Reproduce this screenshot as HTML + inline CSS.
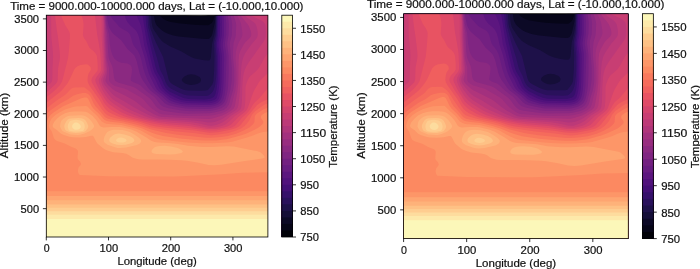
<!DOCTYPE html>
<html><head><meta charset="utf-8"><style>html,body{margin:0;padding:0;background:#fff;}svg{display:block}</style></head>
<body><svg width="700" height="269" viewBox="0 0 700 269">
<defs><filter id="tb" x="-5%" y="-20%" width="110%" height="140%"><feGaussianBlur stdDeviation="0.3"/></filter><clipPath id="cl"><rect x="46.3" y="15.2" width="221.6" height="221.8"/></clipPath></defs>
<rect width="700" height="269" fill="#fff"/>
<g id="fig"><g clip-path="url(#cl)"><rect x="46.3" y="15.2" width="221.6" height="221.8" fill="#010108"/>
<path fill="#060518" d="M46.3 237l221.6 0 0-221.8-59.8 0-2.6 0.6-4.4 0.3-8.8-0.3-7.1-0.6-138.9 0z"/>
<path fill="#0c0926" d="M46.3 237l221.6 0 0-221.8-53.4 0-0.3 2-1.2 3.7-1.3 2-2.5 1.9-1.2 0.4-10-0.3-11.9-0.8-7.5-0.9-8.7-1.5-3.1-1-3.3-1.7-2.3-1.9-1.1-1.9-113.8 0z"/>
<path fill="#150e38" d="M46.3 237l221.6 0 0-221.8-52.5 0-0.6 7.5-2.5 11.3-0.6 1.7-1.9 2.6-1.2 0.7-1.2 0.1-5.7-0.3-23.1-2.4-6.2-1.2-5.6-1.9-2.5-1.3-1.9-1.3-3.7-3.2-1.9-2.1-1.1-2-0.8-2.3-0.6-3.1-0.2-2.8-107.8 0z"/>
<path fill="#1e1149" d="M46.3 237l221.6 0 0-221.8-51.9 0-0.5 12.8-1.3 6.9-2.1 8.7-1.1 12.7-0.5 2.4-0.7 1.2-0.6 0.5-1.2 0.2-3.8-0.3-4.3-0.7-5-1.1-2.8-1-2.9-1.4-8.1-4.9-11.8-5.1-6.3-4-1.8-1.9-2.5-3.1-4.4-6.5-1.3-2.4-0.7-2.3-0.6-3.1-0.6-7.6-104.8-0zM181.9 80.3l0-0.6 0.5-1.3 2-1.9 3.6-1.7 3.1-0.5 3.8 0.5 3.7 1.6 1 0.7 0.9 1.1 0.4 0.8 0.1 1.3-0.4 1.3-0.5 0.6-1.9 1.2-3.3 1.2-3.8 0.4-3.1-0.4-2.9-1.2-2.6-1.8z"/>
<path fill="#2a115c" d="M46.3 237l221.6 0 0-221.8-51.3 0-0.5 15.8-0.5 4.4-1.3 5.7-0.3 2.5 0.5 12.7-0.3 13.6-0.8 11.7-1.1 2.9-4.3 5.6-2.5 0.5-4.4 0.2-13.1-0.2-3.7-0.7-3.8-1.5-7.1-3.7-2.3-1.5-1.5-1.6-1-2.3-5.5-22.4-6.9-13.8-2.5-5.9-3.2-8.4-0.8-4.1-0.5-9.5-102.9 0z"/>
<path fill="#36106b" d="M46.3 237l221.6 0 0-221.8-50.6 0-0.4 19-1.4 9.4 0.1 3.8 0.8 8.9 0.1 13.2-0.3 7-0.9 7.6-0.5 2.5-1.1 3.2-0.7 1.5-1.3 1.6-1.9 1.7-1.5 0.9-2.2 0.4-2.5 0.1-14.4-0.4-2.4-0.3-2.5-0.6-6.1-2.4-7.1-3.6-2.5-1.9-1.6-2.1-1.3-2.5-2.1-5.7-3.6-7-2.9-11.3-4.7-15-4.1-16-0.4-5-0.3-7-101.3 0z"/>
<path fill="#440f76" d="M46.3 237l221.6 0 0-221.8-49.6 0-0.3 19.6-1.2 9.5 0.9 10.1 0.1 3.8-0.2 22.1-0.9 7.9-1.2 5.6-0.7 1.7-1.2 1.5-1.7 1-2.1 0.7-2.5 0.5-3.1 0.2-15.6-0.4-5-1-4.8-1.9-8.9-4.4-2.5-1.9-1.9-2.1-1.7-3-2.6-6.2-3.9-6.4-1.6-4.5-6.2-25.9-2.7-12.6-0.6-3.8-0.6-10.1-99.3 0z"/>
<path fill="#51127c" d="M46.3 237l221.6 0 0-221.8-48.1 0 0.3 9.5-0.5 11.4-1 5.6-0.2 2.6 0.2 3.1 1.1 8.9-0.2 24.6-0.3 4.4-0.8 6.4-1.3 5-0.5 1.3-1.1 1.3-1.3 0.8-3.1 0.8-6.2 0.6-16.9-0.4-3.7-0.5-3.2-0.7-4.3-1.7-6.9-3.5-4-3-3.1-3.2-1.6-2.8-2.7-6-3.9-7-1.6-4.4-6.1-25.3-4.4-27.8-96.2 0z"/>
<path fill="#5c167f" d="M46.3 237l221.6 0 0-221.8-46.3 0 0.4 8.8-0.1 10.8-1.3 6.9-0.2 2.6 0.2 3.1 1.2 7.6 0.1 4.4-0.5 23.4-0.4 6.3-0.6 3.8-0.7 3.2-0.9 2.5-0.8 1.3-1.4 1.2-1.8 0.9-3.1 0.8-3.1 0.4-3.7 0.1-17.5-0.4-4.4-0.6-4.8-1.2-3.9-1.4-4.4-2.2-8-6.5-2-1.9-1.5-2.5-2.7-6.3-3.3-5.9-1.4-3.6-4.2-17-2.6-8.3-1.5-11.3-1.5-7.1-1.3-4.2-3.4-7.7-90.2 0z"/>
<path fill="#681c81" d="M46.3 237l221.6 0 0-221.8-44.3 0 0.4 8.8 0 10.8-1.3 9.5 0.2 3.1 1.1 7 0.1 4.4-0.6 25.3-0.4 5.7-0.6 3.8-0.9 3.7-0.8 1.9-1.3 1.9-1.5 1.4-2.4 1.2-2.6 0.7-3.2 0.5-4.3 0.1-18.7-0.4-5.7-0.7-5.7-1.5-4.3-1.5-2.5-1.4-5.3-4.7-4.1-3.1-2-1.9-1.3-1.9-5.2-10.1-1.9-4.5-1.7-5.7-2.8-11.4-3.4-10.7-1.7-7.6-1.1-3.5-1.5-2.8-1.7-2.2-4.8-4.1-2.6-3.1-1.9-3.8-0.6-3.2-78.7 0z"/>
<path fill="#732081" d="M46.3 237l221.6 0 0-221.8-42.4 0 0.7 8.8 0 10.8-1.2 7.6-0.1 2.5 1.4 9.5 0.1 3.8-0.8 27.1-0.4 5.1-0.8 5.1-0.8 3.1-0.9 1.9-1.5 1.9-2 1.6-2.5 1.2-3.7 1.1-3.2 0.5-3.7 0.1-15.6-0.2-5-0.3-6.9-1.1-6.8-1.7-2.5-0.9-2.5-1.6-4.5-4.4-7.2-5.7-1.7-1.9-2.2-3.1-2.7-4.4-1.9-3.8-1.5-3.8-1.8-5.7-2.2-9.5-1.2-3.9-1.8-3.7-3.9-5-1.1-1.9-0.9-2.6-1.3-5-1.1-2.5-1-1.3-1.5-1.3-6.1-3.4-2.1-1.6-6.6-7.5-1.3-2-0.7-1.9-64.2 0z"/>
<path fill="#802582" d="M46.3 237l221.6 0 0-221.8-40.2 0 0.9 5.7 0.3 3.8-0.3 10.1-1.2 6.9-0.2 2.6 1.4 11.3 0.1 17.7-0.6 12.7-0.5 4.4-1.1 5.7-0.8 3.1-0.9 2.2-1.2 1.9-1.9 1.7-3.1 1.7-3.8 1.2-3.7 0.8-3.7 0.3-16.3-0.2-5.6-0.2-8.1-1.3-8.8-2.1-2.2-0.9-1.9-1.3-6.1-6.3-8-6.3-1.8-1.9-5.9-8.2-1.7-3.2-1.4-3.8-2.9-12-1.1-3-1.3-2.7-1.9-2.2-5.2-4.7-6-8.4-6.2-5-2.5-2.4-1.3-1.6-1.9-3.6-0.6-1.8-1.2-5.6-0.7-5.1-60.5-0z"/>
<path fill="#8b2981" d="M46.3 237l221.6 0 0-221.8-37.4 0 1.2 5.7 0.5 3.8-0.4 10.7-1.7 6.3-0.3 2.6 2 24-0.1 12.6-1.3 8.9-3.2 12-1.7 3.1-1.9 1.9-2.5 1.5-3.8 1.2-4.3 1.1-3.2 0.5-16.2 0.1-6.8-0.1-6.9-0.8-12.5-2.4-4.4-1.4-1.5-0.9-1.6-1.5-3.6-4.9-1.7-1.9-8.4-6.3-5.6-5.5-2.5-1.6-4.6-1.7-2.2-1.3-0.5-0.6-0.1-1.3 1.1-6.1 0.2-3.4-0.2-1.9-0.9-1.8-1.4-1.3-2.1-1-6.2-0.7-3.1-1.2-1.9-1.4-1.9-1.8-1.8-3.2-1.3-3.7-0.6-2.7-0.7-4.5-0.9-10.1-2.2-8.7-1-10.3-59.5 0z"/>
<path fill="#982d80" d="M46.3 237l221.6 0 0-221.8-34.3 0 2.2 7 0.4 3.1-0.4 10.1-0.6 2.5-1.6 5.1-0.5 6.3 0 8.9 1.1 10.7 0.1 12.7-0.4 3.7-0.9 5.1-2 6.3-1.4 5.7-1 2.5-1.9 2.8-3.1 2.2-3.1 1.2-6.3 1.5-5 0.7-20 0.4-5.6-0.3-6.8-0.7-11.9-1.7-4.4-1.2-2.5-1.6-2.1-2-4.1-5.7-2.4-2.5-13.2-9.5-2.3-1.3-2.7-1-12.5-3.5-2.5-1.1-1.2-1.2-1-2.6-0.8-7-0.6-3.2-1.1-3.1-2.2-4.8-0.7-2.8-0.5-5-0.8-17.7-1.2-7-1-12-58.8-0z"/>
<path fill="#a3307e" d="M46.3 237l221.6 0 0-221.8-30.8 0 3.1 6.3 0.9 2.5 1.1 7 0.2 3.8-0.5 1.9-3.4 6.3-1.8 5.1-0.7 3.1-0.5 5.7 0.8 12 0.1 11.4-0.2 3.8-1 6.9-1.9 7-1.2 5.7-0.8 2.5-1.1 1.9-2.9 2.3-4.3 2.3-2.5 0.9-7.5 1.7-4.4 0.5-19.4 0.2-8.1-0.3-16.2-1.3-3.7-0.4-1.9-0.6-3.1-1.8-5.6-4.1-2-1.9-4.9-5.8-2.2-1.8-2.2-1.5-12.5-7-2.7-1-9.1-2.6-2.5-1.3-2.1-1.8-0.9-1.2-0.4-1.3 0-12-1.6-6.3-0.7-3.8-0.8-23.4-1.4-19.6-58.3-0z"/>
<path fill="#b0357b" d="M46.3 237l221.6 0 0-221.8-27.2 0 1.6 2.6 4.8 5.6 1.7 2.5 1.8 4.5 0.6 2.5 0 1.9-0.2 1.3-1.2 1.8-4.4 4.3-1.5 2.1-3.5 6.5-1.3 3.6-0.5 5-0.3 24-1 8.9-2.1 12-0.6 2.5-1 1.8-1.6 1.4-5.9 3.7-3.8 1.9-8.1 2.5-3.1 0.6-3.1 0.2-44.3-1.9-3.2-0.3-1.8-0.4-4.2-1.9-7.9-4.4-4.5-3.2-5.9-4.9-3-2-8.2-4.4-10-4.8-2.5-1.8-4.4-4-1.9-2.3-0.5-1-0.2-1.3 1.3-6.3 0.3-5.1-1.3-11.4-0.8-19-0.3-15.1-0.6-8.2-57.8 0z"/>
<path fill="#bc3978" d="M46.3 237l221.6 0 0-221.8-23.2 0 0.7 0.9 1.9 1.6 6.5 4.5 1.7 1.8 0.9 1.9 0.8 3.2 0.5 3.2 0.1 2.5-0.4 1.9-1 1.9-5.4 6.3-5.6 8.2-1.8 3.4-1 2.9-0.7 3.2-0.6 4.4-1.5 25.3-1.2 11.4-0.8 3.8-1.1 1.8-1.5 1.3-13.5 8.6-6.2 2.5-3.2 0.5-3.7 0.2-1.9-0.1-6.2-1.1-7.5-0.8-31.2-1.7-3.1-0.3-3.3-0.8-5-1.9-4.3-1.9-11.9-6.3-10.5-6.6-8.1-4.4-1.9-1.3-1.9-1.7-6.9-8.2-1.2-2.1-0.5-2.3 0.2-2.5 2.1-5.7 0.3-3.2-0.8-10.7-0.9-20.9-0-13.9-0.5-8.8-57.3 0z"/>
<path fill="#c83e73" d="M46.3 237l221.6 0 0-221.8-17.5 0 1.3 0.8 9.2 4.3 2 1.3 1.8 1.8 0.6 1.3 0.3 1.9 0.3 5.7-0.1 3.8-0.6 2.5-1.2 2.5-15.5 21.7-2.4 4-1.5 3.4-1 3.7-0.7 4.5-0.6 8.2-0.4 15.2-0.5 4.4-0.4 1.9-0.8 1.3-2 1.9-7.1 4.4-5 4.4-2.5 1.7-2.9 1.5-4 1.5-3.1 0.8-2.5 0.2-3.1-0.3-7.5-1.7-8.8-1.5-30.5-2.2-4.7-0.6-5.7-1.3-5.9-1.9-14.5-6.3-3.6-1.9-12.5-7.8-1.8-1.4-1.9-1.9-5.6-7.2-2.6-4.5-1.1-3.7-0.1-1.9 0.3-1.3 2.4-5.7 0.5-3.2-1.2-32.8 0.2-12-0.4-9.5-55.7-0-0.3 19 0.3 20.8-0 14.5-0.4 6.4-0.6 3.1z"/>
<path fill="#d3436e" d="M46.3 237l221.6 0 0-183.2-1.4 1.2-1.8 2.5-4.9 8.9-1.9 2.9-1.9 2-5.6 4.7-1.4 1.8-1.3 2.5-1.6 4.3-0.6 2.6-0.2 13.9-0.6 5.7-0.5 1.9-0.9 1.3-1.4 1.3-7.2 5-5.5 5.3-3.7 2.8-3.1 1.4-4.8 1.2-4 0.6-3.8 0.1-3.7-0.5-16.2-3.1-20-1.5-13.7-1.7-9.6-2.1-6.8-1.9-10-3.8-6.1-2.9-10-6.4-3.3-2.7-2.3-2.4-2.5-3.3-3.5-5.6-2.8-6.4-0.6-3.1 0.4-1.9 3.1-5.7 0.7-3.2-0.2-14.5-1.1-19.6 0.1-10.7-0.2-9.5-50.4 0 0.2 20.9 1.6 15.8 0.2 4.4-0.6 12.6-0.2 10.8-0.5 1.9-0.8 1.2-4.7 4.3zM267.9 16l0-0.8-3.4 0z"/>
<path fill="#df4a68" d="M46.3 237l221.6 0 0-164.1-7.5 7.4-1.8 2.5-4.1 7-1.7 3.8-5 14.5-1.1 1.9-1.9 2-6.4 4.9-7.3 7.6-2 1.3-2.4 1-3.7 1-7.5 1.2-8.1-0.1-18.2-2.9-20.6-1.8-9.3-1.2-7.5-1.4-16.8-4-7.5-2.6-5.7-2.5-8.7-5.4-3.8-2.8-2.5-2.6-2.4-3.5-5.1-8.4-3.4-7-0.5-1.9 0.1-1.9 1-1.9 3.7-5 0.7-1.9 0.1-2.6-0.4-10.7-0.4-5-1.5-9.1-1.6-8.6-2.1-19-40 0 1.7 13.9 1.6 10.7 1.5 12.7 0.2 5-0.3 2.6-1.6 8.2-0.4 11.4-0.4 1.9-0.6 1.2-1.1 1.3-7.5 6.9-1.8 1.5z"/>
<path fill="#e85362" d="M46.3 237l221.6 0 0-148.5-1.2 1.1-7.2 8.4-4.8 4.4-1.8 2.3-2.3 4-1.8 2.6-2.1 2.2-4.5 4.1-6.6 7.6-1.7 1.2-1.6 0.8-3.1 1-4.4 0.9-9.3 1.5-7.5 0-18.8-2.7-25.5-2.4-11.3-1.9-10-2.7-12.5-2.8-5.8-1.8-5.4-2.3-5.6-3.1-3.8-2.5-3.1-2.8-2-2.6-3.4-6.3-3.1-4.4-5.7-9.5-0.6-2.5 0.6-2.5 1.2-1.9 3.4-3.8 1.1-1.9 0-5.7-0.6-7-0.4-1.9-1.1-2.2-1.9-2.2-3.2-2.5-1.2-1.3-3-6.1-2.3-3.4-0.9-1.8-0.2-1.9 0.6-7 0-3.8-0.6-3.8-1.6-4.4-20.2 0 0.8 2.3 3.4 7.8 3.3 5.1 0.9 1.9 0.5 1.9-0.1 3.7-1.1 14-0.8 6.3-5.9 23.4-2.1 3.5-3.7 4-3.6 3.2-6.4 5z"/>
<path fill="#f05f5e" d="M46.3 237l221.6 0 0-137.8-6.2 2.9-3.2 2-1.8 1.5-8.7 10.1-7.1 8.8-1.9 1.9-3.4 1.9-5.2 1.5-12.4 2.5-3.8 0.3-4.4 0.1-4.3-0.4-10.6-1.7-26.9-2.6-11.8-1.6-5.7-1.2-10.6-3.4-18.8-4.2-3.7-1.3-7-3.2-2.3-1.4-2.5-2.2-2.1-2.7-4.1-7.2-9.7-13.6-1.7-3.2-0.5-2.5 0.4-4.4 0.8-2.6 2-3.1 0.2-0.7-0.2-1.9-0.7-1.2-1.9-1.7-1.8-0.5-5.7 0.8-3.1 1.3-1.9 1.4-1.2 1.5-5.1 11.1-1.9 3.1-2.4 3.2-3.3 3.8-2.3 2.1-13.1 10.2z"/>
<path fill="#f56b5c" d="M46.3 237l221.6 0 0-133.6-2.6 0.9-3 1.6-7.5 5.6-3 3.5-2.6 5.5-1.5 2.1-2.9 3.2-3.7 2.6-6.9 2.9-6.9 1.9-10.6 1.6-5 0.4-3.7-0.2-12.5-1.7-21.2-2.1-20-3.1-5-1.2-7.5-2.6-5.6-1.7-18-3.8-7.6-2.1-3.1-1.4-2.5-2-4.5-5.8-4.9-7.2-4.4-7-1.8-2.1-3.1-2.5-1.9-1.1-1.3-0.3-8.7 0.1-1.9 0.5-1.9 1.4-3.7 4-1.9 1.7-8.4 5.5-10.3 7.9z"/>
<path fill="#f9795d" d="M46.3 237l221.6 0 0-129.5-1.9 0.7-3.7 1.9-5.7 3.7-1.1 1.2-0.7 1.3-0.4 5.7-0.9 1.7-3.7 3.5-6.2 3.4-6.9 2.9-8.8 2.5-6.8 1-5.6 0.6-5 0.2-4.4-0.1-26.8-2.7-13.1-1.9-15-3.6-11-3.7-8.4-2.4-8.7-1.9-10.6-1.7-4.4-1.1-2.5-1.1-1.2-1-3.2-4.2-5.7-6.2-1.8-2.6-3.2-6.9-1.1-1.5-1.3-1.1-1.2-0.7-1.3-0.3-3.1-0-6.2 1.3-3.2 1.3-5 3.6-7.4 4-9.4 6.5-2.5 2-2.5 2.7z"/>
<path fill="#fc8961" d="M46.3 237l221.6 0 0-125.1-2 0.6-2.5 1.3-1.6 1.2-0.9 1.3-0.1 0.6 0.2 1.3 1.9 2.5 0.5 1.3-0.3 1.3-1 1.2-2.8 2.5-2 1.3-10.6 5.1-5.4 1.9-13.4 3.8-11.8 1.3-10.6 0.2-6.3-0.4-19.3-1.8-16.9-2.3-6.8-1.9-5-1.8-9.6-4.1-8.5-2.5-11.3-2.7-11.2-1.3-3.8-0.8-1.9-0.9-1.7-1.3-4.2-5-5.5-5.1-1.8-2.5-3.6-7.4-0.7-0.8-1.1-0.6-1.9 0-3.1 0.9-18.1 8-9 5.6-3.2 2.5-1.6 1.8-1.2 2-1.9 4.8z"/>
<path fill="#fd9668" d="M46.3 237l221.6 0 0-45.7-221.6 0zM48.8 125.8l0.4 1.9 2.6 3.8 2 6.2 1.2 2 2 1.2 7.7 2.6 5.9 3.1 5 2 1 0.6 0.9 1 0.4 0.9 0.1 1.2-0.5 5.1 0.2 1.2 0.4 0.9 2.1 2.3 0.8 1.9-0.3 1.3-2.2 2.5-0.6 2.5 0.1 1.9 0.7 1.9 0.7 1 0.6 0.3 28.1 1.2 66.2 0.2 11.8-0.4 35.6-1.9 20.6-1.4 25.6-0.5-0-40.9-4.4 0.5-3.5 0.8-3.3 1.2-5 2.2-3.8 1.2-15.6 4.4-5.6 0.8-14.4 0.8-10.6-0.1-14.3-0.8-25.6-2.7-3.8-0.7-3.1-1.1-6.9-3.3-7.7-4.4-4.7-1.7-14.4-3.5-12.5-0.9-2.5-0.4-1.8-0.7-2.6-1.6-4.8-5.7-5.7-5.1-3.8-4-0.6-0.4-1.3-0.3-10 0.5-2.5 0.5-8.1 2.6-5.6 2.9-4.1 2.6-3.8 3.8-1.5 2.6z"/>
<path fill="#fea571" d="M46.3 237l221.6 0 0-40.9-221.6 0zM264.6 157.4l-0.3-1.3-1.6-1.9-2.3-1.9-1.4-0.6-2.2-0.6-23-4.5-7.1-0.4-16.2 0.8-8.1-0.1-14.4-1.1-10-1.9-10-0.8-10-0.5-3.7-0.6-3.1-1.2-5.6-3.8-9.4-5.5-4.9-1.9-8.2-2-3.8-0.6-8.1 0-7.5 0.5-1.8-0.5-1.3-0.6-1.2-1.2-2.6-4.5-3.9-4.4-2.3-1.9-2.5-1.7-2.5-0.9-4.3-0.4-6.9 0.1-5 0.6-4.4 1.2-4.5 2.4-3.1 2.5-3.3 3.8-1 1.9-0.5 1.9 0.3 1.2 0.6 0.7 3.4 2.2 3.8 3.6 3.1 1.6 5.6 1.7 3.1 0.4 6.9 0.3 6.2-0.4 5.6-1.3 1.3 0 0.6 0.3 0.9 1.1 2.1 4.4 1.3 1.9 5.1 4.3 2.5 1.6 3.1 1.3 5 1.5 9.4 0.9 3.7 0.7 2.5 1.1 3.6 2.5 1.3 0.6 4.5 1.3 3.7 0.3 13.7-0.1 14.4 0.2 11.9 0.6 5 0.5 10.6 1.7 11.2 2.4 6.2 0.4 6.3-0.5 23.7-3.9 17.2-2.3 2.1-0.6z"/>
<path fill="#feb27a" d="M46.3 237l221.6 0 0-36.7-221.6 0zM151.5 151.7l0.3 0.6 0.7 0.7 1.5 0.6 2.2 0.5 13.7 0.3 5-0.2 4.3-0.6 2.1-0.6 1.1-0.7 0.4-0.6-0.2-0.6-1.5-1.3-2.2-1.3-2.1-0.8-5.7-1.2-6.8-0.7-4.4 0.3-3.1 0.5-2.1 0.7-1 0.6-1.2 1.3-0.8 1.2zM103.7 140.3l0.2 1.3 0.9 1.2 2.7 2 7.5 2.5 2.5 0.6 3.1 0.2 5.6-0.5 10.6-2.5 3-1.6 1-1.3 0.4-1.3-0.3-1.2-1.9-1.9-4.7-3.3-4.4-2.4-2.5-0.8-4.9-1.2-6.9-0.4-2.5 0.1-1.9 0.4-2.5 1-1.4 0.9-1.1 1.3-1.5 2.5-0.8 2.5zM60 126.4l0.5 1.3 1.4 2.5 0.6 0.7 1.3 0.8 6.8 2.7 6.9 0.5 2.5-0.2 3.8-0.9 5.3-2.3 1.9-1.3 2.1-1.9 0.6-0.9 0.4-1-0.2-1.2-1.1-1.9-2.4-3.2-1.9-1.9-1.7-1.3-1.8-0.9-1.9-0.5-2.5-0.2-10.6 0.4-1.9 0.4-2.1 0.8-2.7 1.9-2 1.9-0.9 2.6z"/>
<path fill="#fec185" d="M46.3 237l221.6 0 0-32.5-221.6 0zM109.2 140.3l0.4 1.3 0.6 0.6 2.5 1.3 4.1 1.2 4.4 0.4 4.4-0.4 5.6-1.5 1.2-0.5 1.3-0.9 0.6-0.9 0-0.6-0.5-1.2-1.2-1.3-3.3-1.9-5-1.5-5.6-0.8-3.1 0.4-1.9 0.8-1.6 1.1-2 1.9-0.7 1.3zM64.9 128.9l0.7 1.3 0.7 0.6 3.7 1.5 5.6 0.6 3.8-0.1 4.4-0.9 2.1-1.1 1.8-2.5 0.5-1.3 0-1.2-1-2.5-1.4-2.6-1.4-1.2-1.3-0.7-1.8-0.5-3.2-0.2-7.5 0.3-1.5 0.4-1.2 0.7-1.3 1.2-1.8 3.2-0.5 1.9 0 1.2z"/>
<path fill="#fecd90" d="M46.3 237l221.6 0 0-29.2-221.6 0zM116.1 140.3l0.1 0.6 1.3 1 1.8 0.6 1.9 0.1 1.9-0.2 1.9-0.5 1.4-1 0.1-0.6-0.2-0.6-0.7-0.6-1.1-0.7-2-0.6-1.9-0.2-1.7 0.2-1.4 0.6-0.8 0.7zM68.5 129.6l0.4 0.6 1 0.6 3.2 0.7 5 0.1 4.4-0.7 1.2-0.7 0.8-1.9 0.3-1.9-0.4-1.9-0.8-1.9-1-1.2-2-1-4.3-0.6-2.5 0.2-2.5 0.5-1.3 0.6-0.6 0.6-1.4 2.8-0.3 2.5z"/>
<path fill="#fddc9e" d="M46.3 237l221.6 0 0-25.8-221.6 0zM74.4 129.5l1.9 0.3 1.7-0.2 1.4-0.7 1.1-1.2 0.3-1.3-0.4-1.2-1-1.3-1.3-0.9-1.2-0.5-1.9 0.1-1.2 0.7-1.1 1.2-0.6 1.3-0 1.2 0.7 1.3z"/>
<path fill="#fde9aa" d="M46.3 237l221.6 0 0-22.3-221.6 0z"/>
<path fill="#fcf7b9" d="M46.3 237l221.6 0 0-18.1-221.6 0z"/></g>
<rect x="46.3" y="15.2" width="221.6" height="221.8" fill="none" stroke="#000" stroke-width="0.8"/>
<path d="M46.30 237.0v3.4 M108.50 237.0v3.4 M170.71 237.0v3.4 M232.91 237.0v3.4 M46.3  208.66h-3.4 M46.3  177.03h-3.4 M46.3  145.40h-3.4 M46.3  113.76h-3.4 M46.3  82.13h-3.4 M46.3  50.50h-3.4 M46.3  18.87h-3.4 M292.6 237.00h3.4 M292.6 210.91h3.4 M292.6 184.81h3.4 M292.6 158.72h3.4 M292.6 132.62h3.4 M292.6 106.53h3.4 M292.6 80.44h3.4 M292.6 54.34h3.4 M292.6 28.25h3.4" stroke="#000" stroke-width="0.8" fill="none"/>
<rect x="281.8" y="15.20" width="10.80" height="221.80" fill="#fcf7b9"/><rect x="281.8" y="21.72" width="10.80" height="215.28" fill="#fde9aa"/><rect x="281.8" y="28.25" width="10.80" height="208.75" fill="#fddc9e"/><rect x="281.8" y="34.77" width="10.80" height="202.23" fill="#fecd90"/><rect x="281.8" y="41.29" width="10.80" height="195.71" fill="#fec185"/><rect x="281.8" y="47.82" width="10.80" height="189.18" fill="#feb27a"/><rect x="281.8" y="54.34" width="10.80" height="182.66" fill="#fea571"/><rect x="281.8" y="60.86" width="10.80" height="176.14" fill="#fd9668"/><rect x="281.8" y="67.39" width="10.80" height="169.61" fill="#fc8961"/><rect x="281.8" y="73.91" width="10.80" height="163.09" fill="#f9795d"/><rect x="281.8" y="80.44" width="10.80" height="156.56" fill="#f56b5c"/><rect x="281.8" y="86.96" width="10.80" height="150.04" fill="#f05f5e"/><rect x="281.8" y="93.48" width="10.80" height="143.52" fill="#e85362"/><rect x="281.8" y="100.01" width="10.80" height="136.99" fill="#df4a68"/><rect x="281.8" y="106.53" width="10.80" height="130.47" fill="#d3436e"/><rect x="281.8" y="113.05" width="10.80" height="123.95" fill="#c83e73"/><rect x="281.8" y="119.58" width="10.80" height="117.42" fill="#bc3978"/><rect x="281.8" y="126.10" width="10.80" height="110.90" fill="#b0357b"/><rect x="281.8" y="132.62" width="10.80" height="104.38" fill="#a3307e"/><rect x="281.8" y="139.15" width="10.80" height="97.85" fill="#982d80"/><rect x="281.8" y="145.67" width="10.80" height="91.33" fill="#8b2981"/><rect x="281.8" y="152.19" width="10.80" height="84.81" fill="#802582"/><rect x="281.8" y="158.72" width="10.80" height="78.28" fill="#732081"/><rect x="281.8" y="165.24" width="10.80" height="71.76" fill="#681c81"/><rect x="281.8" y="171.76" width="10.80" height="65.24" fill="#5c167f"/><rect x="281.8" y="178.29" width="10.80" height="58.71" fill="#51127c"/><rect x="281.8" y="184.81" width="10.80" height="52.19" fill="#440f76"/><rect x="281.8" y="191.34" width="10.80" height="45.66" fill="#36106b"/><rect x="281.8" y="197.86" width="10.80" height="39.14" fill="#2a115c"/><rect x="281.8" y="204.38" width="10.80" height="32.62" fill="#1e1149"/><rect x="281.8" y="210.91" width="10.80" height="26.09" fill="#150e38"/><rect x="281.8" y="217.43" width="10.80" height="19.57" fill="#0c0926"/><rect x="281.8" y="223.95" width="10.80" height="13.05" fill="#060518"/><rect x="281.8" y="230.48" width="10.80" height="6.52" fill="#010108"/>
<rect x="281.8" y="15.2" width="10.80" height="221.8" fill="none" stroke="#000" stroke-width="0.8"/>
<g font-family='"Liberation Sans", sans-serif' font-size="10.5" fill="#111" stroke="#111" stroke-width="0.2" filter="url(#tb)"><text x="156.80" y="9.70" text-anchor="middle" textLength="293.25" lengthAdjust="spacingAndGlyphs">Time = 9000.000-10000.000 days, Lat = (-10.000,10.000)</text><text x="46.60" y="252.20" text-anchor="middle" textLength="5.86" lengthAdjust="spacingAndGlyphs">0</text><text x="108.80" y="252.20" text-anchor="middle" textLength="18.61" lengthAdjust="spacingAndGlyphs">100</text><text x="171.01" y="252.20" text-anchor="middle" textLength="18.69" lengthAdjust="spacingAndGlyphs">200</text><text x="233.21" y="252.20" text-anchor="middle" textLength="18.52" lengthAdjust="spacingAndGlyphs">300</text><text x="39.10" y="212.56" text-anchor="end" textLength="18.53" lengthAdjust="spacingAndGlyphs">500</text><text x="39.10" y="180.93" text-anchor="end" textLength="24.98" lengthAdjust="spacingAndGlyphs">1000</text><text x="39.10" y="149.30" text-anchor="end" textLength="24.98" lengthAdjust="spacingAndGlyphs">1500</text><text x="39.10" y="117.66" text-anchor="end" textLength="25.06" lengthAdjust="spacingAndGlyphs">2000</text><text x="39.10" y="86.03" text-anchor="end" textLength="25.06" lengthAdjust="spacingAndGlyphs">2500</text><text x="39.10" y="54.40" text-anchor="end" textLength="24.89" lengthAdjust="spacingAndGlyphs">3000</text><text x="39.10" y="22.77" text-anchor="end" textLength="24.89" lengthAdjust="spacingAndGlyphs">3500</text><text x="300.30" y="241.40" text-anchor="start" textLength="18.61" lengthAdjust="spacingAndGlyphs">750</text><text x="300.30" y="215.31" text-anchor="start" textLength="18.67" lengthAdjust="spacingAndGlyphs">850</text><text x="300.30" y="189.21" text-anchor="start" textLength="18.76" lengthAdjust="spacingAndGlyphs">950</text><text x="300.30" y="163.12" text-anchor="start" textLength="24.98" lengthAdjust="spacingAndGlyphs">1050</text><text x="300.30" y="137.02" text-anchor="start" textLength="25.89" lengthAdjust="spacingAndGlyphs">1150</text><text x="300.30" y="110.93" text-anchor="start" textLength="24.98" lengthAdjust="spacingAndGlyphs">1250</text><text x="300.30" y="84.84" text-anchor="start" textLength="24.98" lengthAdjust="spacingAndGlyphs">1350</text><text x="300.30" y="58.74" text-anchor="start" textLength="24.98" lengthAdjust="spacingAndGlyphs">1450</text><text x="300.30" y="32.65" text-anchor="start" textLength="24.98" lengthAdjust="spacingAndGlyphs">1550</text><text x="157.10" y="265.30" text-anchor="middle" textLength="79.36" lengthAdjust="spacingAndGlyphs">Longitude (deg)</text><text transform="translate(8.10 125.50) rotate(-90)" text-anchor="middle" textLength="65.40" lengthAdjust="spacingAndGlyphs">Altitude (km)</text><text transform="translate(337.40 126.60) rotate(-90)" text-anchor="middle" textLength="82.24" lengthAdjust="spacingAndGlyphs">Temperature (K)</text></g></g>
<use href="#fig" transform="translate(356.65 -1.71) scale(1.014)"/>
</svg></body></html>
